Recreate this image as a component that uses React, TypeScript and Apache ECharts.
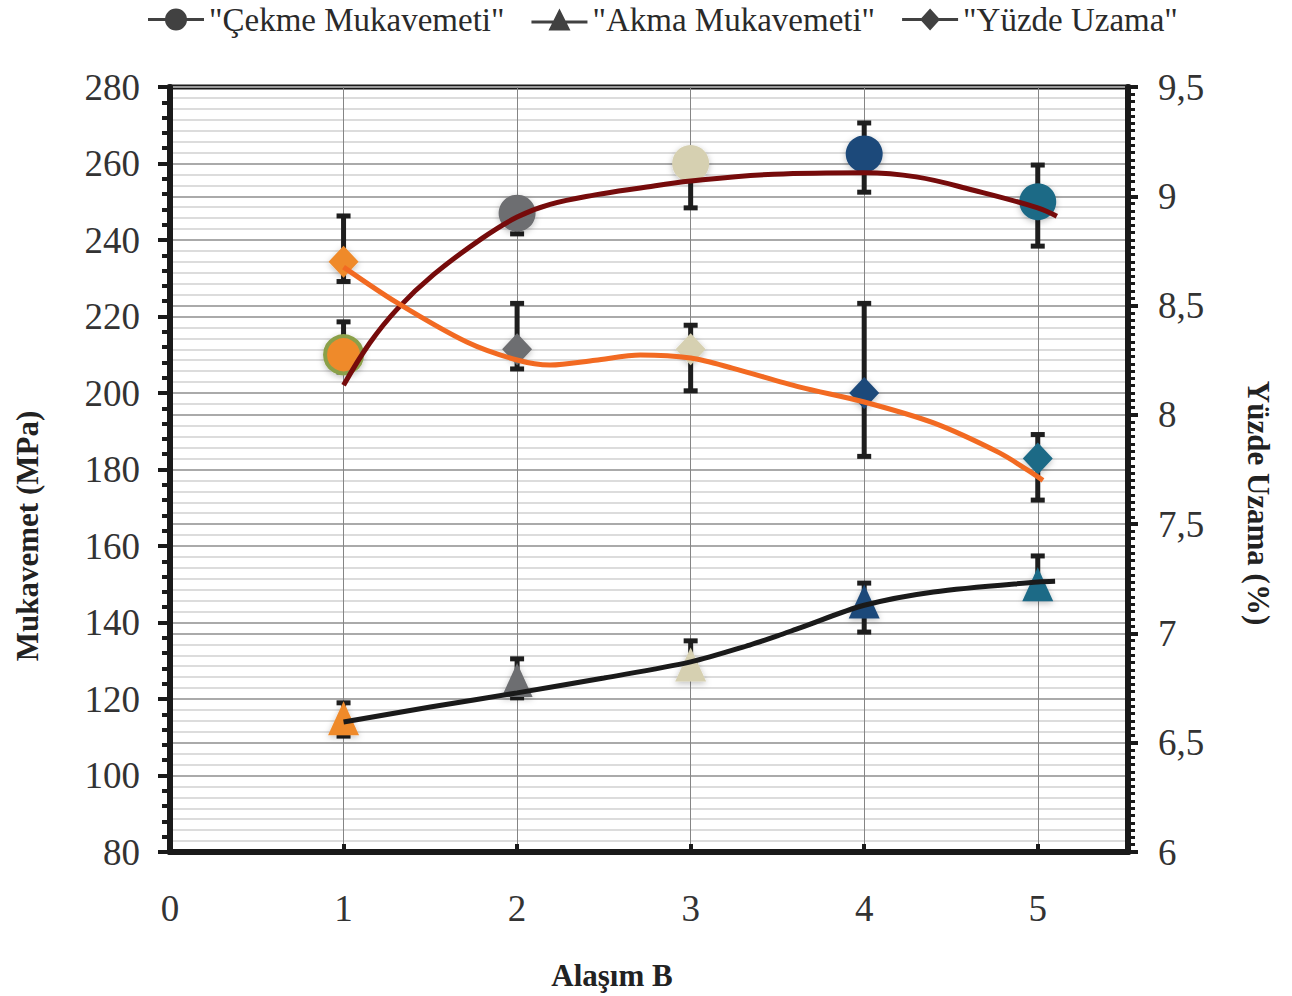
import React, { useEffect, useRef } from "react";
import * as echarts from "echarts";

// ---- data ----
const alloyX = [1, 2, 3, 4, 5];
const xTickLabels = ["0", "1", "2", "3", "4", "5"];

const cekme = [210, 247, 260, 262.5, 250];
const cekmeLow = [205.5, 241.6, 248.4, 252.5, 238.4];
const cekmeHigh = [218.6, 247, 260, 270.6, 259.6];

const akma = [115, 125, 129, 145.5, 150];
const akmaLow = [110.3, 120.3, 129, 137.5, 146.4];
const akmaHigh = [119, 130.5, 135.2, 150.3, 157.4];

const uzama = [8.7, 8.3, 8.3, 8.1, 7.8];
const uzamaLow = [8.61, 8.21, 8.11, 7.81, 7.61];
const uzamaHigh = [8.91, 8.51, 8.41, 8.51, 7.91];

const pointColors = ["#ef8a2c", "#6d6e71", "#d6d0b1", "#1f4a7a", "#1e6a86"];

const cekmeTrendX = [1.0, 1.15, 1.31, 1.52, 1.8, 2.0, 2.19, 2.45, 2.71, 3.0, 3.48, 4.0, 4.3, 4.63, 5.0, 5.11];
const cekmeTrendY = [202, 213, 222, 231, 240.5, 246, 249.3, 251.8, 253.6, 255.4, 257.2, 257.6, 256.5, 253, 248.4, 246.2];

const akmaTrendX = [1, 1.5, 2, 2.5, 3, 3.34, 3.5, 3.63, 4, 4.4, 5, 5.1];
const akmaTrendY = [114, 117.9, 121.6, 125.5, 129.7, 134.1, 136.5, 138.6, 144.5, 148, 150.6, 150.8];

const uzamaTrendX = [1, 1.31, 1.71, 2.0, 2.19, 2.45, 2.71, 3.0, 3.24, 3.63, 4.0, 4.4, 4.78, 4.94, 5.03];
const uzamaTrendY = [8.676, 8.512, 8.333, 8.251, 8.228, 8.25, 8.274, 8.26, 8.214, 8.127, 8.059, 7.963, 7.826, 7.748, 7.7];

const seriesNames = ['"Çekme Mukavemeti"', '"Akma Mukavemeti"', '"Yüzde Uzama"'];
const axisTitles = { left: "Mukavemet (MPa)", right: "Yüzde Uzama (%)", bottom: "Alaşım B" };

const SERIF = '"Liberation Serif", "Times New Roman", serif';

const pairs = (xs: number[], ys: number[]) => xs.map((x, i) => [x, ys[i]]);
const errData = (lo: number[], hi: number[]) => alloyX.map((x, i) => [x, lo[i], hi[i]]);

const errorRender = (params: any, api: any) => {
  const x = api.value(0);
  const pLo = api.coord([x, api.value(1)]);
  const pHi = api.coord([x, api.value(2)]);
  const hw = 7;
  const c = "#1e1e1e";
  return {
    type: "group",
    children: [
      { type: "line", shape: { x1: pLo[0], y1: pLo[1], x2: pHi[0], y2: pHi[1] }, style: { stroke: c, lineWidth: 5 } },
      { type: "line", shape: { x1: pLo[0] - hw, y1: pLo[1], x2: pLo[0] + hw, y2: pLo[1] }, style: { stroke: c, lineWidth: 5 } },
      { type: "line", shape: { x1: pHi[0] - hw, y1: pHi[1], x2: pHi[0] + hw, y2: pHi[1] }, style: { stroke: c, lineWidth: 5 } },
    ],
  };
};

const shadow = { shadowBlur: 6, shadowColor: "rgba(0,0,0,0.25)", shadowOffsetY: 2 };

export default function App() {
  const ref = useRef<HTMLDivElement>(null);
  useEffect(() => {
    if (!ref.current) return;
    const chart = echarts.init(ref.current, null, { renderer: "svg" });
    const option: any = {
      animation: false,
      backgroundColor: "#ffffff",
      textStyle: { fontFamily: SERIF },
      legend: {
        left: 143,
        top: -2,
        itemWidth: 56,
        itemHeight: 22,
        itemGap: 27,
        textStyle: { fontFamily: SERIF, fontSize: 33, color: "#2a2a2a" },
        data: [
          { name: seriesNames[0], icon: "path://M0,9.5H56V12.5H0Z M28,0A11,11 0 1 1 28,22A11,11 0 1 1 28,0Z", itemStyle: { color: "#111" } },
          { name: seriesNames[1], icon: "path://M0,12H56V15H0Z M28,0L39,22H17Z", itemStyle: { color: "#111" } },
          { name: seriesNames[2], icon: "path://M0,9.5H56V12.5H0Z M28,0L38,11L28,22L18,11Z", itemStyle: { color: "#111" } },
        ],
      },
      grid: {
        left: 170,
        right: 164,
        top: 87,
        bottom: 144,
        show: true,
        borderColor: "#1a1a1a",
        borderWidth: 5,
        backgroundColor: "transparent",
      },
      xAxis: {
        type: "value",
        min: 0,
        max: 5.52,
        interval: 1,
        axisLine: { show: true, lineStyle: { color: "#1a1a1a", width: 6 } },
        axisTick: { show: true, inside: true, length: 8, lineStyle: { color: "#1a1a1a", width: 4 } },
        axisLabel: {
          margin: 38,
          fontFamily: SERIF,
          fontSize: 37,
          color: "#333",
          formatter: (v: number) => (Number.isInteger(v) ? xTickLabels[v] ?? "" : ""),
        },
        splitLine: { show: true, lineStyle: { color: "#858585", width: 1 } },
      },
      yAxis: [
        {
          // light horizontal grid (0.05 steps on the right scale)
          type: "value",
          position: "right",
          min: 6,
          max: 9.5,
          interval: 0.05,
          axisLine: { show: false },
          axisTick: { show: false },
          axisLabel: { show: false },
          splitLine: { show: true, lineStyle: { color: "#d0d0d0", width: 1.6 } },
        },
        {
          type: "value",
          position: "left",
          min: 80,
          max: 280,
          interval: 20,
          axisLine: { show: true, lineStyle: { color: "#1a1a1a", width: 6 } },
          axisTick: { show: true, length: 12, lineStyle: { color: "#1a1a1a", width: 4 } },
          minorTick: { show: true, splitNumber: 5, length: 8, lineStyle: { color: "#1a1a1a", width: 4 } },
          axisLabel: { margin: 30, fontFamily: SERIF, fontSize: 37, color: "#333" },
          splitLine: { show: true, lineStyle: { color: "#9a9a9a", width: 1.5 } },
        },
        {
          type: "value",
          position: "right",
          min: 6,
          max: 9.5,
          interval: 0.5,
          axisLine: { show: true, lineStyle: { color: "#1a1a1a", width: 6 } },
          axisTick: { show: true, length: 10, lineStyle: { color: "#1a1a1a", width: 4 } },
          minorTick: { show: true, splitNumber: 15, length: 7, lineStyle: { color: "#1a1a1a", width: 3 } },
          axisLabel: {
            margin: 30,
            fontFamily: SERIF,
            fontSize: 37,
            color: "#333",
            formatter: (v: number) => String(Math.round(v * 10) / 10).replace(".", ","),
          },
          splitLine: { show: true, lineStyle: { color: "#9a9a9a", width: 1.5 } },
        },
      ],
      graphic: [
        {
          type: "text",
          x: 27,
          y: 536,
          rotation: Math.PI / 2,
          style: { text: axisTitles.left, font: `bold 31px ${SERIF}`, fill: "#222", align: "center", verticalAlign: "middle" },
        },
        {
          type: "text",
          x: 1258,
          y: 503,
          rotation: -Math.PI / 2,
          style: { text: axisTitles.right, font: `bold 31px ${SERIF}`, fill: "#222", align: "center", verticalAlign: "middle" },
        },
        {
          type: "text",
          x: 612,
          y: 975,
          style: { text: axisTitles.bottom, font: `bold 31px ${SERIF}`, fill: "#222", align: "center", verticalAlign: "middle" },
        },
      ],
      series: [
        // error bars
        { type: "custom", name: "errCekme", yAxisIndex: 1, z: 2, renderItem: errorRender, encode: { x: 0, y: [1, 2] }, data: errData(cekmeLow, cekmeHigh) },
        { type: "custom", name: "errAkma", yAxisIndex: 1, z: 2, renderItem: errorRender, encode: { x: 0, y: [1, 2] }, data: errData(akmaLow, akmaHigh) },
        { type: "custom", name: "errUzama", yAxisIndex: 2, z: 2, renderItem: errorRender, encode: { x: 0, y: [1, 2] }, data: errData(uzamaLow, uzamaHigh) },
        // markers
        {
          type: "scatter",
          name: seriesNames[0],
          yAxisIndex: 1,
          z: 3,
          symbol: "circle",
          symbolSize: 37,
          itemStyle: { color: "#111" },
          data: alloyX.map((x, i) => ({
            value: [x, cekme[i]],
            itemStyle: i === 0
              ? { color: "#ef8a2c", borderColor: "#8aa04a", borderWidth: 4, opacity: 1, ...shadow }
              : { color: pointColors[i], opacity: 1, ...shadow },
          })),
        },
        {
          type: "scatter",
          name: seriesNames[1],
          yAxisIndex: 1,
          z: 3,
          symbol: "triangle",
          symbolSize: [31, 34],
          itemStyle: { color: "#111" },
          data: alloyX.map((x, i) => ({ value: [x, akma[i]], itemStyle: { color: pointColors[i], opacity: 1, ...shadow } })),
        },
        {
          type: "scatter",
          name: seriesNames[2],
          yAxisIndex: 2,
          z: 3,
          symbol: "diamond",
          symbolSize: [30, 32],
          itemStyle: { color: "#111" },
          data: alloyX.map((x, i) => ({ value: [x, uzama[i]], itemStyle: { color: pointColors[i], opacity: 1, ...shadow } })),
        },
        // trend lines
        {
          type: "line",
          name: "trendCekme",
          yAxisIndex: 1,
          z: 4,
          smooth: 0.4,
          showSymbol: false,
          lineStyle: { color: "#760b0b", width: 5 },
          data: pairs(cekmeTrendX, cekmeTrendY),
        },
        {
          type: "line",
          name: "trendAkma",
          yAxisIndex: 1,
          z: 4,
          smooth: 0.3,
          showSymbol: false,
          lineStyle: { color: "#1a1a1a", width: 5 },
          data: pairs(akmaTrendX, akmaTrendY),
        },
        {
          type: "line",
          name: "trendUzama",
          yAxisIndex: 2,
          z: 4,
          smooth: 0.3,
          showSymbol: false,
          lineStyle: { color: "#f26a22", width: 5 },
          data: pairs(uzamaTrendX, uzamaTrendY),
        },
      ],
    };
    chart.setOption(option);
    return () => chart.dispose();
  }, []);
  return (
    <div
      ref={ref}
      style={{ position: "fixed", left: 0, top: 0, width: 1292, height: 996, background: "#fff" }}
    />
  );
}
